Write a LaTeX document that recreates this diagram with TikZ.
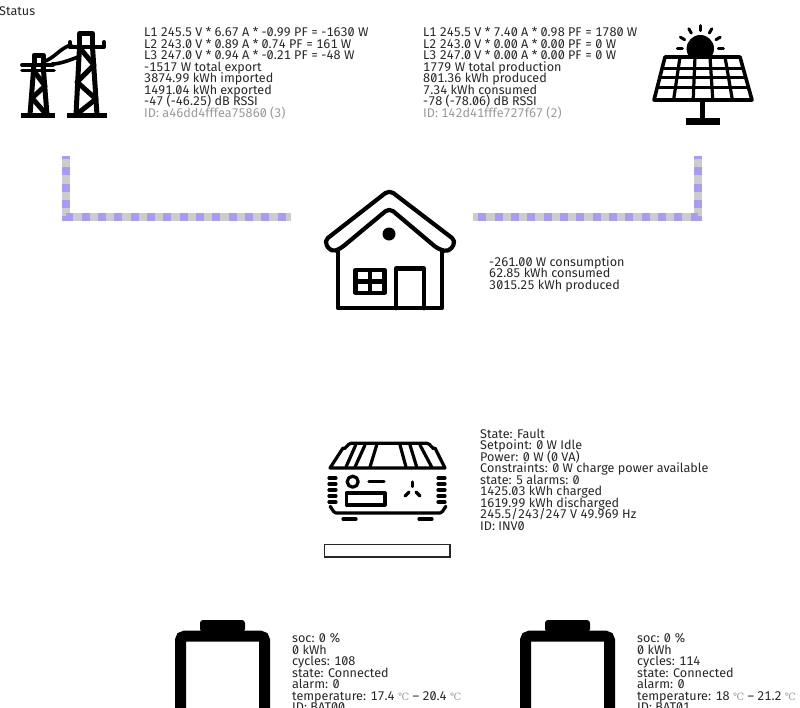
\documentclass[tikz,border=0pt]{standalone}
\usepackage{fontspec}
\setmainfont[Numbers={Monospaced,SlashedZero}]{Fira Sans}
\newfontfamily\degfont{DejaVu Serif}
\usetikzlibrary{calc}
\definecolor{flowgray}{HTML}{CCCCCC}
\definecolor{flowviolet}{HTML}{A99CF0}
\definecolor{idgray}{HTML}{999999}
\newcommand{\degC}{{\degfont\color{idgray}\fontsize{10}{11.5}\selectfont ℃}}
\newcommand{\infofont}{\fontsize{12.6}{11.5}\selectfont\lineskiplimit -10pt\relax}
\tikzset{
  info/.style={anchor=north west, inner sep=0pt, align=left, text=black!85, font=\infofont},
  flowbase/.style={draw=flowgray, line width=8pt},
  flowdash/.style={draw=flowviolet, line width=8pt, dash pattern=on 8pt off 8.33pt, dash phase=5pt},
  icon/.style={line width=3.4pt, line join=round, line cap=round},
}
\begin{document}
\begin{tikzpicture}[x=1pt,y=-1pt]
\clip (0,0) rectangle (800,707);
\node[info] (status) at (-1,6) {Status};
% grid
\begin{scope}[icon,line width=5pt]
\draw (79.5,47)--(79.5,33.5)--(92.5,33.5)--(92.5,47);
\draw (79.5,47)--(76,115); \draw (92.5,47)--(97,115);
\draw[line cap=butt,line width=5pt] (67,115)--(107,115);
\draw[line width=4pt] (70,47)--(104,47)--(104,42);
\draw[line width=4pt] (70,47)--(70,42);
\draw (79,47)--(94,65)--(77,82)--(96,99)--(77,114);
\draw (34,64)--(34,55)--(43,55)--(43,64);
\draw (34,64)--(30,115); \draw (43,64)--(47,115);
\draw[line cap=butt,line width=5pt] (21,115)--(55,115);
\draw[line width=3.8pt] (22,65)--(53,65); \draw[line width=3.8pt] (22,70.5)--(54,70.5);
\draw (34,71)--(45,86)--(32,98)--(46,114);
\draw[line width=3.6pt] (43,62) .. controls (55,58) and (60,48) .. (71,45);
\draw[line width=3.6pt] (52,64) .. controls (60,64) and (70,60) .. (78,57);
\end{scope}
\node[info] (griddata) at (144,27) {L1 245.5 V * 6.67 A * -0.99 PF = -1630 W\\
L2 243.0 V * 0.89 A * 0.74 PF = 161 W\\
L3 247.0 V * 0.94 A * -0.21 PF = -48 W\\
-1517 W total export\\
3874.99 kWh imported\\
1491.04 kWh exported\\
-47 (-46.25) dB RSSI\\
\textcolor{idgray}{ID: a46dd4fffea75860 (3)}};
% solar
\coordinate (sun) at (700.3,48.7);
\coordinate (pTL) at (665,57); \coordinate (pTR) at (740,57);
\coordinate (pBL) at (654,100); \coordinate (pBR) at (752,100);
\fill (sun) circle (13.7);
\foreach \a in {0,30,...,180} \draw[icon,line width=3pt] ($(sun)+(-\a:18)$)--($(sun)+(-\a:23)$);
\draw[icon,line width=3.6pt,fill=white] (pTL)--(pTR)--(pBR)--(pBL)--cycle;
\foreach \i in {1,...,4} \draw[line width=3.2pt] ($(pTL)!\i/5!(pTR)$)--($(pBL)!\i/5!(pBR)$);
\foreach \t in {.26,.48,.7} \draw[line width=3.2pt] ($(pTL)!\t!(pBL)$)--($(pTR)!\t!(pBR)$);
\draw[line width=5.5pt] (702.7,100)--(702.7,119);
\fill (686,118) rectangle (720,125);
\node[info] (solardata) at (423,27) {L1 245.5 V * 7.40 A * 0.98 PF = 1780 W\\
L2 243.0 V * 0.00 A * 0.00 PF = 0 W\\
L3 247.0 V * 0.00 A * 0.00 PF = 0 W\\
1779 W total production\\
801.36 kWh produced\\
7.34 kWh consumed\\
-78 (-78.06) dB RSSI\\
\textcolor{idgray}{ID: 142d41fffe727f67 (2)}};
% flows
\coordinate (gridout) at (66,156); \coordinate (gridcorner) at (66,217); \coordinate (gridend) at (291,217);
\coordinate (solarout) at (698,156); \coordinate (solarcorner) at (698,217); \coordinate (solarend) at (473,217);
\draw[flowbase] (gridout)--(gridcorner)--(gridend);
\draw[flowdash] (gridout)--(gridcorner)--(gridend);
\draw[flowbase] (solarout)--(solarcorner)--(solarend);
\draw[flowdash] (solarout)--(solarcorner)--(solarend);
% house
\begin{scope}[icon,line width=4.2pt]
\draw[rounded corners=5pt] (340,249)--(389.3,208)--(438,249)--(449,252)--(456,241)--(389.3,190)--(324,241)--(331,252)--cycle;
\draw (338,250)--(338,308.3)--(441.7,308.3)--(441.7,250);
\fill (389,234) circle (6.5);
\draw (355.5,270)rectangle(384.5,293);
\draw (370,270)--(370,293); \draw (355.5,281.5)--(384.5,281.5);
\draw (396,308.3)--(396,268.5)--(424,268.5)--(424,308.3);
\end{scope}
\node[info] (housedata) at (489,256) {-261.00 W consumption\\
62.85 kWh consumed\\
3015.25 kWh produced};
% inverter
\begin{scope}[icon,line width=3.2pt]
\draw (330,468)--(343,448) to[out=-60,in=180] (351,443.3)--(427,443.3) to[out=0,in=-120] (435,448)--(445,468)--cycle;
\foreach \xa/\xb in {355.7/346,365/355,376.7/370,400/406,410/416.7,420/431.7} \draw (\xa,445)--(\xb,467);
\foreach \y in {478,484,490,496,502} {\draw (329,\y)--(336,\y); \draw (438,\y)--(445,\y);}
\draw (330,507) to[out=90,in=180] (336,513)--(440,513) to[out=0,in=90] (446,507);
\draw (343,519)--(356,519); \draw (419,519)--(432,519);
\draw (352.7,481.7) circle (5.5);
\draw (369,481.7)--(384,481.7);
\draw (346.5,493)rectangle(385,505);
\draw (412.7,482)--(412.7,486.5);
\draw (405,496)--(409,492); \draw (420,496)--(416,492);
\end{scope}
\node[info] (inverterdata) at (480,428.5) {State: Fault\\
Setpoint: 0 W Idle\\
Power: 0 W (0 VA)\\
Constraints: 0 W charge power available\\
state: 5 alarms: 0\\
1425.03 kWh charged\\
1619.99 kWh discharged\\
245.5/243/247 V 49.969 Hz\\
ID: INV0};
\draw[line width=1.1pt,draw=black!85] (324.5,544.5) rectangle (450,557);
% batteries
\foreach \x/\nm in {175/0,520/1} {
\fill[rounded corners=3pt] (\x+25,632) -- (\x+25,620)--(\x+70,620)--(\x+70,632)--cycle;
\draw[line width=11pt,rounded corners=4pt] (\x+5.5,720)--(\x+5.5,636.2)--(\x+89.5,636.2)--(\x+89.5,720);
}
\node[info] (bat0data) at (292,633.5) {soc: 0 \%\\
0 kWh\\
cycles: 108\\
state: Connected\\
alarm: 0\\
temperature: 17.4 \degC{} -- 20.4 \degC\\
ID: BAT00};
\node[info] (bat1data) at (637,633.5) {soc: 0 \%\\
0 kWh\\
cycles: 114\\
state: Connected\\
alarm: 0\\
temperature: 18 \degC{} -- 21.2 \degC\\
ID: BAT01};
\end{tikzpicture}
\end{document}
